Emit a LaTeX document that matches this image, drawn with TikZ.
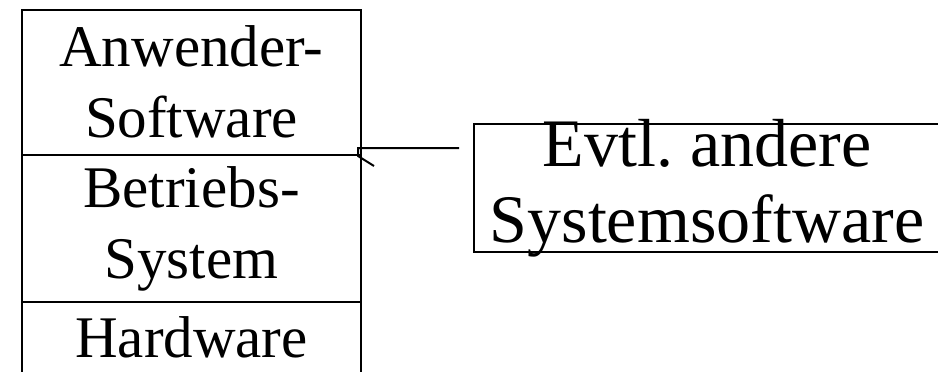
\documentclass[tikz,border=0pt]{standalone}
\usepackage{fontspec}
\setmainfont{Liberation Serif}
\usetikzlibrary{positioning}
\frenchspacing

\begin{document}
\begin{tikzpicture}[x=1pt, y=-1pt,
    layer/.style={draw, line width=2pt, inner sep=0pt, outer sep=0pt,
      minimum width=339pt, align=center, font=\fontsize{59}{71}\selectfont},
    frame/.style={draw, line width=2pt, inner sep=0pt, outer sep=0pt},
    link/.style={line width=2pt}]
  \useasboundingbox (0,0) rectangle (938,372);
  \clip (0,0) rectangle (938,372);
  \node[layer, minimum height=145.5pt] (app) at (191.5,82.25) {Anwender-\\Software};
  \node[layer, minimum height=147pt, below=0pt of app] (os) {Betriebs-\\System};
  \node[layer, minimum height=71pt, below=0pt of os] (hw) {Hardware};
  \node[frame, minimum width=466pt, minimum height=128pt] (other) at (707,188) {};
  \node[align=center, font=\fontsize{68}{76}\selectfont] (othertext) at (other.center) {Evtl. andere\\Systemsoftware};
  \coordinate (tip) at ([xshift=-3pt,yshift=7pt]app.south east);
  \coordinate (lineend) at ([xshift=-15pt]other.west |- tip);
  \draw[link] (lineend) -- (tip) -- ++(0,8) -- ++(16,10);
\end{tikzpicture}
\end{document}
